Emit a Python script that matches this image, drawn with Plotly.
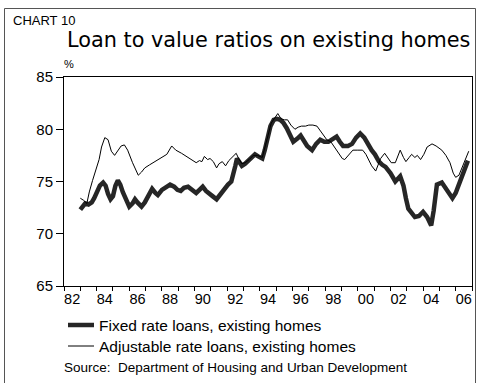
import plotly.graph_objects as go

# Loan-to-value ratios (%), fixed-rate loans on existing homes
fixed_t = [1983.0, 1983.15, 1983.3, 1983.5, 1983.7, 1983.85, 1984.0, 1984.2, 1984.4, 1984.55,
           1984.7, 1984.85, 1985.0, 1985.15, 1985.3, 1985.45, 1985.6, 1985.8, 1986.0, 1986.2,
           1986.35, 1986.5, 1986.75, 1986.95, 1987.15, 1987.4, 1987.6, 1987.75, 1988.0, 1988.25,
           1988.5, 1988.75, 1988.95, 1989.15, 1989.35, 1989.6, 1989.85, 1990.1, 1990.3, 1990.5,
           1990.7, 1990.9, 1991.1, 1991.35, 1991.55, 1991.75, 1992.05, 1992.25, 1992.4, 1992.5,
           1992.6, 1992.75, 1992.9, 1993.1, 1993.3, 1993.5, 1993.7, 1993.9, 1994.15, 1994.3,
           1994.45, 1994.65, 1994.85, 1995.05, 1995.25, 1995.45, 1995.65, 1995.85, 1996.05, 1996.3,
           1996.5, 1996.7, 1996.9, 1997.2, 1997.45, 1997.7, 1997.95, 1998.2, 1998.45, 1998.7,
           1998.9, 1999.1, 1999.4, 1999.65, 1999.9, 2000.15, 2000.4, 2000.6, 2000.85, 2001.05,
           2001.3, 2001.5, 2001.7, 2002.0, 2002.3, 2002.6, 2002.8, 2002.95, 2003.1, 2003.3,
           2003.5, 2003.75, 2004.0, 2004.25, 2004.5, 2004.65, 2004.85, 2005.15, 2005.5, 2005.8,
           2006.0, 2006.15, 2006.35, 2006.55, 2006.75]
fixed_v = [72.3, 72.6, 72.9, 72.8, 73.0, 73.4, 73.9, 74.6, 74.9, 74.6,
           73.8, 73.3, 73.6, 74.6, 75.1, 74.7, 74.0, 73.3, 72.6, 72.9,
           73.3, 73.0, 72.6, 73.0, 73.6, 74.3, 73.9, 73.7, 74.2, 74.5,
           74.7, 74.5, 74.2, 74.1, 74.4, 74.5, 74.2, 73.9, 74.2, 74.5,
           74.1, 73.9, 73.6, 73.3, 73.7, 74.2, 74.7, 75.0, 75.7, 76.5,
           77.2, 76.9, 76.5, 76.7, 77.0, 77.3, 77.6, 77.4, 77.2, 78.0,
           79.2, 80.3, 80.9, 81.0, 80.9, 80.6, 80.1, 79.4, 78.8, 79.1,
           79.4, 78.9, 78.4, 78.0, 78.6, 79.0, 78.8, 78.8, 79.1, 79.3,
           78.8, 78.4, 78.4, 78.6, 79.2, 79.6, 79.2, 78.6, 78.0, 77.6,
           76.9, 76.6, 76.4, 75.8, 75.0, 75.5, 74.6, 73.4, 72.4, 72.0,
           71.6, 71.7, 72.1, 71.6, 70.8, 72.2, 74.7, 74.9, 74.0, 73.4,
           73.9, 74.5, 75.5, 76.3, 77.0]

# Adjustable-rate loans on existing homes
adj_t = [1983.0, 1983.2, 1983.4, 1983.55, 1983.75, 1984.0, 1984.15, 1984.3, 1984.5, 1984.7,
         1984.9, 1985.1, 1985.3, 1985.5, 1985.7, 1985.9, 1986.2, 1986.55, 1986.75, 1986.95,
         1987.25, 1987.55, 1987.8, 1988.05, 1988.3, 1988.6, 1988.85, 1989.2, 1989.5, 1989.8,
         1990.1, 1990.3, 1990.45, 1990.6, 1990.8, 1990.95, 1991.15, 1991.35, 1991.5, 1991.7,
         1991.9, 1992.1, 1992.3, 1992.55, 1992.7, 1992.9, 1993.1, 1993.35, 1993.6, 1993.85,
         1994.15, 1994.3, 1994.5, 1994.7, 1994.9, 1995.1, 1995.3, 1995.5, 1995.7, 1995.9,
         1996.15, 1996.35, 1996.55, 1996.8, 1997.0, 1997.25, 1997.5, 1997.7, 1997.9, 1998.1,
         1998.35, 1998.6, 1998.85, 1999.05, 1999.2, 1999.45, 1999.7, 2000.0, 2000.3, 2000.5,
         2000.7, 2000.85, 2001.1, 2001.25, 2001.4, 2001.65, 2001.85, 2002.05, 2002.3, 2002.45,
         2002.6, 2002.8, 2002.95, 2003.15, 2003.3, 2003.5, 2003.65, 2003.85, 2004.05, 2004.25,
         2004.55, 2004.8, 2005.15, 2005.4, 2005.65, 2005.85, 2006.0, 2006.2, 2006.4, 2006.6,
         2006.8]
adj_v = [73.4, 73.2, 72.9, 74.0, 75.1, 76.3, 77.1, 78.3, 79.2, 79.0,
         77.9, 77.5, 77.9, 78.4, 78.5, 78.0, 76.8, 75.6, 75.9, 76.3,
         76.6, 76.9, 77.1, 77.4, 77.6, 78.4, 78.0, 77.7, 77.4, 77.1,
         76.8, 77.0, 76.9, 77.4, 77.1, 77.2, 76.9, 76.3, 76.7, 76.9,
         76.5, 77.0, 77.3, 77.7, 77.2, 76.7, 76.8, 77.1, 77.5, 77.5,
         77.3, 78.1, 79.4, 80.6, 81.1, 81.5, 81.0, 80.9, 80.9, 80.4,
         80.0, 80.2, 80.3, 80.3, 80.4, 80.4, 80.3, 79.9, 79.4, 79.0,
         78.8, 78.2, 77.6, 77.2, 77.1, 77.6, 78.0, 78.0, 78.0, 77.6,
         76.9, 76.5, 76.0, 76.6, 77.2, 77.7, 77.2, 76.8, 76.8, 77.4,
         78.0, 77.3, 76.9, 77.3, 77.6, 77.3, 77.5, 77.1, 77.6, 78.3,
         78.6, 78.4, 78.0, 77.5, 76.8, 75.8, 75.4, 75.6, 76.4, 77.2,
         77.9]

series_names = ["Fixed rate loans, existing homes", "Adjustable rate loans, existing homes"]
series_colors = ["#262626", "black"]
series_widths = [4.5, 1]

year_ticks = list(range(1982, 2008))
label_pos = [y + 0.5 for y in range(1982, 2007, 2)]
label_text = ["82", "84", "86", "88", "90", "92", "94", "96", "98", "00", "02", "04", "06"]

W, H = 477, 383
L, R, T, B = 64, 5, 77, 97
pw, ph = W - L - R, H - T - B


def px(x):
    return (x - L) / pw


def py(y):
    return (H - B - y) / ph


fig = go.Figure()
for t, v, name, color, width in zip([fixed_t, adj_t], [fixed_v, adj_v],
                                    series_names, series_colors, series_widths):
    fig.add_trace(go.Scatter(x=t, y=v, mode="lines", name=name,
                             line=dict(color=color, width=width)))

fig.update_layout(
    width=W, height=H,
    margin=dict(l=L, r=R, t=T, b=B),
    paper_bgcolor="white", plot_bgcolor="white",
    font=dict(family="Liberation Sans, Arial, sans-serif", color="black"),
    showlegend=False,
    xaxis=dict(
        range=[1982, 2007], tickmode="array", tickvals=label_pos, ticktext=label_text,
        ticks="", showgrid=False, zeroline=False,
        showline=True, linecolor="black", linewidth=1, mirror=True,
        tickfont=dict(size=14.5, family="Liberation Sans Narrow, Liberation Sans, Arial"),
        minor=dict(tickmode="array", tickvals=year_ticks, ticks="outside",
                   ticklen=4, tickcolor="black", tickwidth=1, showgrid=False),
    ),
    yaxis=dict(
        range=[65, 85], tickmode="array", tickvals=[65, 70, 75, 80, 85],
        ticks="outside", ticklen=7, tickcolor="black", showgrid=False, zeroline=False,
        showline=True, linecolor="black", linewidth=1, mirror=True,
        tickfont=dict(size=15),
    ),
)

annotations = [
    dict(text="CHART 10", x=px(11), y=py(21), xanchor="left", yanchor="middle",
         font=dict(size=13)),
    dict(text="Loan to value ratios on existing homes", x=px(65), y=py(40),
         xanchor="left", yanchor="middle", font=dict(size=20.8, family="DejaVu Sans")),
    dict(text="%", x=px(62), y=py(64), xanchor="left", yanchor="middle",
         font=dict(size=11)),
    dict(text="Source:  Department of Housing and Urban Development", x=px(62), y=py(367),
         xanchor="left", yanchor="middle", font=dict(size=13.5)),
]

shapes = []
# Legend keys below the chart
legend_rows = [325, 346]
for row_y, name, color, width in zip(legend_rows, series_names, series_colors, series_widths):
    shapes.append(dict(type="line", xref="paper", yref="paper",
                       x0=px(68), x1=px(94), y0=py(row_y), y1=py(row_y),
                       line=dict(color=color, width=width)))
    annotations.append(dict(text=name, x=px(97), y=py(row_y), xanchor="left",
                            yanchor="middle", font=dict(size=15.5)))

for a in annotations:
    a.update(xref="paper", yref="paper", showarrow=False)

# Outer frame around the exhibit (left, top, right edges)
frame = [
    (px(4.5), py(8.5), px(4.5), py(H + 5)),
    (px(4.5), py(8.5), px(475.5), py(8.5)),
    (px(475.5), py(8.5), px(475.5), py(H + 5)),
]
for a, b, c, d in frame:
    shapes.append(dict(type="line", xref="paper", yref="paper", x0=a, y0=b, x1=c, y1=d,
                       line=dict(color="#555555", width=1)))

fig.update_layout(annotations=annotations, shapes=shapes)

fig.write_html("out.html")
